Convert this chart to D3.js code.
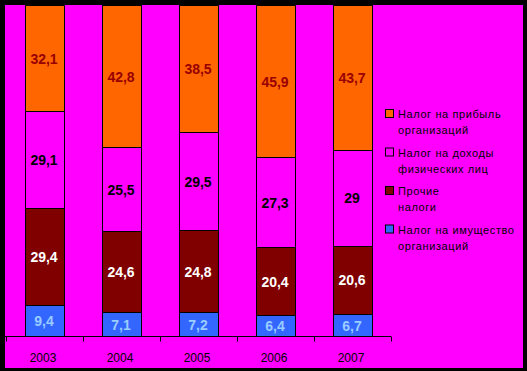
<!DOCTYPE html>
<html><head><meta charset="utf-8">
<script src="https://cdn.jsdelivr.net/npm/d3@7"></script>
<style>
html,body{margin:0;padding:0;background:#000;}
svg{display:block;}
text{font-family:Arial,"Liberation Sans",sans-serif;}
</style></head>
<body>
<svg id="chart" width="527" height="371"></svg>
<script>
const years = ["2003","2004","2005","2006","2007"];
const seriesNames = ["Налог на имущество организаций","Прочие налоги","Налог на доходы физических лиц","Налог на прибыль организаций"];
const propertyTax = [9.4, 7.1, 7.2, 6.4, 6.7];
const otherTaxes = [29.4, 24.6, 24.8, 20.4, 20.6];
const personalIncomeTax = [29.1, 25.5, 29.5, 27.3, 29];
const profitTax = [32.1, 42.8, 38.5, 45.9, 43.7];
const legendLines = [
  ["Налог на прибыль","организаций"],
  ["Налог на доходы","физических лиц"],
  ["Прочие","налоги"],
  ["Налог на имущество","организаций"]
];
const colors = ["#3366FF","#800000","#FF00FF","#FF6600"];
const labelColors = ["#99CCFF","#FFFFFF","#000000","#990000"];

const svg = d3.select("#chart");
svg.append("rect").attr("x",5).attr("y",5).attr("width",518).attr("height",363).attr("fill","#FF00FF");

const keys = ["property","other","income","profit"];
const rows = years.map((y,i)=>({year:y, property:propertyTax[i], other:otherTaxes[i], income:personalIncomeTax[i], profit:profitTax[i]}));
const stacked = d3.stack().keys(keys)(rows);

const x = d3.scaleBand().domain(years).range([5.5,390.5]).paddingInner(0.5).paddingOuter(0.25);
const y = d3.scaleLinear().domain([0,100]).range([336,5]);

const g = svg.append("g");
stacked.forEach((layer,li)=>{
  const lg = g.append("g");
  lg.selectAll("rect").data(layer).join("rect")
    .attr("x", d=>Math.round(x(d.data.year))+0.5)
    .attr("width", Math.round(x.bandwidth()))
    .attr("y", d=>Math.round(y(d[1]))+0.5)
    .attr("height", d=>Math.round(y(d[0]))-Math.round(y(d[1])))
    .attr("fill", colors[li]).attr("stroke","#000").attr("stroke-width",1);
  lg.selectAll("text").data(layer).join("text")
    .attr("x", d=>x(d.data.year)+x.bandwidth()/2)
    .attr("y", d=>(y(d[0])+y(d[1]))/2+2)
    .attr("text-anchor","middle").attr("dominant-baseline","middle")
    .attr("font-size",14).attr("font-weight","bold")
    .attr("fill", labelColors[li])
    .text(d=>String(d.data[keys[li]]).replace(".",","));
});

// axis
const ax = svg.append("g").attr("transform","translate(0,336.5)");
ax.append("line").attr("x1",5).attr("x2",391).attr("stroke","#000");
const step = x.step();
const tickPos = d3.range(years.length+1).map(i=>5.5 + i*step);
ax.selectAll("line.tk").data(tickPos).join("line").attr("class","tk")
  .attr("x1",d=>Math.round(d)+0.5).attr("x2",d=>Math.round(d)+0.5).attr("y1",0).attr("y2",5).attr("stroke","#000");
ax.selectAll("text.yr").data(years).join("text").attr("class","yr")
  .attr("x",d=>x(d)+x.bandwidth()/2-1).attr("y",25)
  .attr("text-anchor","middle").attr("font-size",12).attr("fill","#000")
  .text(d=>d);

// legend
const leg = svg.append("g").attr("transform","translate(385,109)");
legendLines.forEach((lines,i)=>{
  const gi = leg.append("g").attr("transform",`translate(0,${i*38.5})`);
  gi.append("rect").attr("x",0.5).attr("y",0.5).attr("width",8).attr("height",8)
    .attr("fill", colors[3-i]).attr("stroke","#000");
  lines.forEach((t,j)=>{
    gi.append("text").attr("x",13).attr("y",9+j*16).attr("font-size",11)
      .attr("letter-spacing",0.6).attr("fill","#000")
      .text(t);
  });
});
</script>
</body></html>
